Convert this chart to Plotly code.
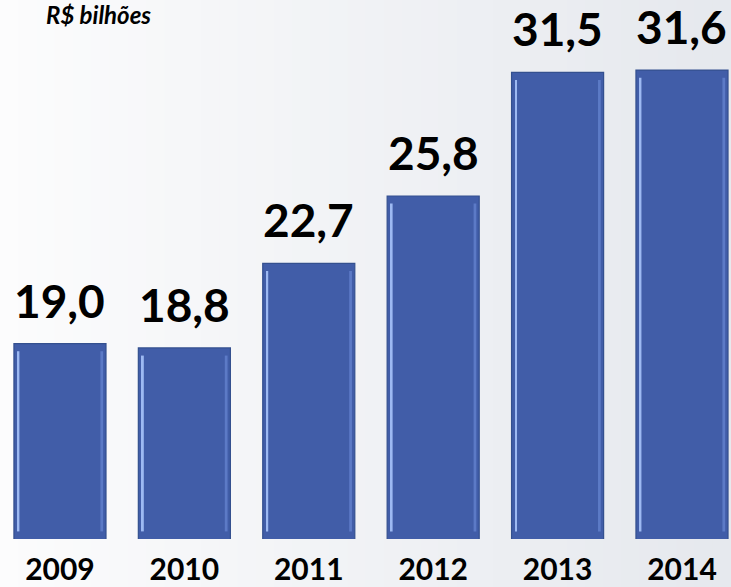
import plotly.graph_objects as go

years = ["2009", "2010", "2011", "2012", "2013", "2014"]
values = [19.0, 18.8, 22.7, 25.8, 31.5, 31.6]
value_labels = ["19,0", "18,8", "22,7", "25,8", "31,5", "31,6"]
unit_label = "R$ bilhões"

W, H = 731, 587
PLOT_BOTTOM = 48
AXIS_MIN = 10
FONT = "Lato"

fig = go.Figure()

# main bars
fig.add_trace(go.Bar(
    x=years, y=values, width=0.74,
    marker=dict(color="#415DA8", line=dict(color="#34508F", width=1.2)),
    hoverinfo="skip",
))
# bevel highlights (left light stripe, right lighter edge)
inset = 0.35
fig.add_trace(go.Bar(
    x=years, y=[v - AXIS_MIN - 2 * inset for v in values],
    base=[AXIS_MIN + inset] * len(values),
    width=0.016, offset=-0.37 + 0.028,
    marker=dict(color="#9DB9F2", line=dict(width=0)),
    hoverinfo="skip",
))
fig.add_trace(go.Bar(
    x=years, y=[v - AXIS_MIN - 2 * inset for v in values],
    base=[AXIS_MIN + inset] * len(values),
    width=0.022, offset=0.37 - 0.045,
    marker=dict(color="#5C7AC6", line=dict(width=0)),
    hoverinfo="skip",
))

annotations = []
for i, (v, lab) in enumerate(zip(values, value_labels)):
    annotations.append(dict(
        x=i, y=v, xref="x", yref="y", text="<b>" + lab + "</b>", showarrow=False,
        yanchor="bottom", yshift=14,
        font=dict(family=FONT, size=46, color="#000000"),
    ))
annotations.append(dict(
    x=44 / W, y=1, xref="paper", yref="paper", yshift=2,
    xanchor="left", yanchor="top", text="<b><i>" + unit_label + "</i></b>",
    showarrow=False, font=dict(family=FONT, size=24, color="#000000"),
))

# soft background gradient
shapes = []
n = 40
for i in range(n):
    t = i / (n - 1)
    c1 = (252, 252, 253)
    c2 = (230, 233, 238)
    c = tuple(int(c1[k] + (c2[k] - c1[k]) * t) for k in range(3))
    shapes.append(dict(
        type="rect", xref="paper", yref="paper",
        x0=i / n, x1=(i + 1) / n + 0.002, y0=-0.2, y1=1.1,
        fillcolor="rgb(%d,%d,%d)" % c, line=dict(width=0), layer="below",
    ))

fig.update_layout(
    width=W, height=H,
    margin=dict(l=0, r=0, t=0, b=PLOT_BOTTOM),
    paper_bgcolor="#f4f5f7", plot_bgcolor="rgba(0,0,0,0)",
    showlegend=False,
    barmode="overlay",
    annotations=annotations,
    shapes=shapes,
    xaxis=dict(
        type="category", range=[-0.482, 5.394], automargin=False,
        showgrid=False, zeroline=False, showline=False, ticks="",
        ticklabelstandoff=10,
        tickfont=dict(family=FONT, size=30, color="#000000", weight="bold"),
    ),
    yaxis=dict(
        range=[AXIS_MIN, 34.83], visible=False, showgrid=False, zeroline=False,
        automargin=False,
    ),
)

fig.write_html(
    "out.html",
    config={"displayModeBar": False},
    post_script="document.body.style.margin='0';document.body.style.overflow='hidden';",
)
